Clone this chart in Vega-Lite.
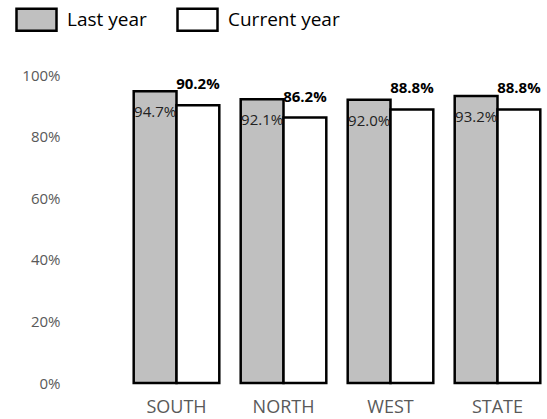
{
  "$schema": "https://vega.github.io/schema/vega-lite/v6.json",
  "autosize": "none",
  "padding": {"left": 123, "top": 75, "right": 0, "bottom": 36},
  "width": 428,
  "height": 308,
  "background": "white",
  "config": {"view": {"stroke": null}, "font": "Open Sans"},
  "data": {
    "values": [
      {"region": "SOUTH", "series": "Last year", "value": 0.947},
      {"region": "SOUTH", "series": "Current year", "value": 0.902},
      {"region": "NORTH", "series": "Last year", "value": 0.921},
      {"region": "NORTH", "series": "Current year", "value": 0.862},
      {"region": "WEST", "series": "Last year", "value": 0.920},
      {"region": "WEST", "series": "Current year", "value": 0.888},
      {"region": "STATE", "series": "Last year", "value": 0.932},
      {"region": "STATE", "series": "Current year", "value": 0.888}
    ]
  },
  "encoding": {
    "x": {
      "field": "region", "type": "nominal", "sort": ["SOUTH", "NORTH", "WEST", "STATE"],
      "scale": {"paddingInner": 0.2, "paddingOuter": 0.1},
      "axis": {"title": null, "domain": false, "ticks": false, "labelAngle": 0, "labelFontSize": 18, "labelColor": "#595959", "labelPadding": 15, "labelFont": "Open Sans"}
    },
    "xOffset": {"field": "series", "type": "nominal", "sort": ["Last year", "Current year"], "scale": {"paddingInner": 0, "paddingOuter": 0}},
    "y": {
      "field": "value", "type": "quantitative",
      "scale": {"domain": [0, 1]},
      "axis": {"title": null, "domain": false, "ticks": false, "grid": false, "format": ".0%", "values": [0, 0.2, 0.4, 0.6, 0.8, 1], "labelFontSize": 15, "labelColor": "#595959", "labelPadding": 63, "labelFont": "Open Sans"}
    }
  },
  "layer": [
    {
      "mark": {"type": "bar", "stroke": "black", "strokeWidth": 2.5},
      "encoding": {
        "color": {
          "field": "series", "type": "nominal",
          "scale": {"domain": ["Last year", "Current year"], "range": ["#c0c0c0", "#ffffff"]},
          "legend": {
            "title": null, "orient": "none", "direction": "horizontal",
            "legendX": -108, "legendY": -77, "padding": 0,
            "symbolType": "M-1,-0.55H1V0.55H-1Z", "symbolSize": 1600,
            "symbolStrokeColor": "black", "symbolStrokeWidth": 2.5, "symbolOpacity": 1,
            "labelFontSize": 19, "labelColor": "black", "labelOffset": 9, "columnPadding": 25,
            "labelFont": "Open Sans"
          }
        }
      }
    },
    {
      "transform": [{"filter": "datum.series == 'Last year'"}],
      "mark": {"type": "text", "baseline": "middle", "dy": 21, "fontSize": 15, "color": "#222"},
      "encoding": {"text": {"field": "value", "type": "quantitative", "format": ".1%"}}
    },
    {
      "transform": [{"filter": "datum.series == 'Current year'"}],
      "mark": {"type": "text", "baseline": "middle", "dy": -21, "fontSize": 15, "fontWeight": "bold", "color": "black"},
      "encoding": {"text": {"field": "value", "type": "quantitative", "format": ".1%"}}
    }
  ]
}
